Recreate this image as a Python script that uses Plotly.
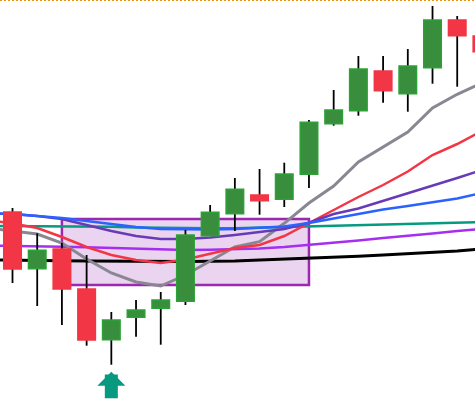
import plotly.graph_objects as go

# ---- data (price units) ----
candle_idx = list(range(20))
open_ = [288, 231.3, 251, 211, 160.3, 182.7, 191.7, 198.7, 264.3, 286.3,
         305, 300.7, 325.7, 376.3, 389.3, 429, 406.3, 432.3, 480, 464]
high = [292, 266.7, 257.3, 245, 188, 200, 208, 270, 295, 322,
        331, 337.3, 380, 410, 444, 444, 451, 494, 484, 470]
low = [217, 194, 175, 154.3, 135.3, 163.3, 155.3, 195, 264, 269,
       285.3, 293, 312, 374.3, 384.3, 397.3, 388.3, 416.3, 413.3, 440]
close = [231, 249.7, 211, 160, 180, 190, 200, 265, 287.7, 310.7,
         299.3, 326, 377.7, 390, 431, 409.3, 434, 480, 464.3, 448.3]

ma_idx = list(range(-1, 20))
ma_gray = [272, 269, 266, 257, 241, 227, 218, 214, 225, 239, 253, 258.3, 276.7,
           297, 314, 338, 353, 368, 392, 405.7, 417]
ma_red = [280, 276.5, 272, 263, 253, 245, 240, 237, 240.5, 246, 252, 255, 264,
          277, 290, 303, 315, 328.5, 345, 356, 369]
ma_purple = [286.5, 286, 284, 281, 275, 269, 264, 261, 261, 262.5, 265, 268, 271,
             277.3, 286, 291.5, 299, 307, 314.5, 322, 330]
ma_blue = [287, 286, 284, 282, 279, 276, 273, 271, 270.5, 270.5, 271, 272, 273.5,
           277, 281.5, 286, 290.5, 294, 297.5, 301.5, 307]
ma_teal = [274, 274, 274, 273.7, 273.5, 273.3, 272.5, 272, 271.7, 271.7, 271.7,
           272.3, 272.7, 273.3, 274, 274.7, 275.3, 276, 276.5, 277.3, 278]
ma_violet = [254.5, 254.3, 254, 253.3, 252.7, 252, 251.3, 250, 250, 250.3, 250.7,
             251.5, 253, 255, 257.5, 259.5, 262, 264, 266.5, 269, 271]
ma_black = [240, 240, 239.7, 239.3, 239, 238.7, 238.5, 238.3, 238.5, 238.8, 239,
            240, 240.8, 241.7, 242.7, 243.8, 245, 246.2, 247.5, 249, 251]

zone_start, zone_end = 2, 12
zone_low, zone_high = 215, 281
signal_idx = 4

# ---- styles ----
UP_FILL, UP_LINE = "#388e3c", "#2ba236"
DN_FILL, DN_LINE = "#f23645", "#f23645"

fig = go.Figure()

ma_series = [
    (ma_black, "#000000", 3),
    (ma_violet, "#a52ff0", 2.5),
    (ma_teal, "#089981", 2.5),
    (ma_gray, "#888792", 3),
    (ma_red, "#f23645", 2.5),
    (ma_purple, "#673ab7", 2.5),
    (ma_blue, "#2962ff", 2.5),
]
for vals, col, w in ma_series:
    fig.add_trace(go.Scatter(x=ma_idx, y=vals, mode="lines",
                             line=dict(color=col, width=w), hoverinfo="skip",
                             showlegend=False, xaxis="x", yaxis="y"))

# wicks (overlay subplot 2)
wx, wy = [], []
for i, h, l in zip(candle_idx, high, low):
    wx += [i, i, None]
    wy += [l, h, None]
fig.add_trace(go.Scatter(x=wx, y=wy, mode="lines",
                         line=dict(color="#000000", width=1.8),
                         hoverinfo="skip", showlegend=False,
                         xaxis="x2", yaxis="y2"))

# bodies (overlay subplot 3)
base = [min(o, c) for o, c in zip(open_, close)]
height = [abs(c - o) for o, c in zip(open_, close)]
fills = [UP_FILL if c >= o else DN_FILL for o, c in zip(open_, close)]
lines = [UP_LINE if c >= o else DN_LINE for o, c in zip(open_, close)]
fig.add_trace(go.Bar(x=candle_idx, y=height, base=base, width=0.71,
                     marker=dict(color=fills, line=dict(color=lines, width=1.5)),
                     hoverinfo="skip", showlegend=False,
                     xaxis="x3", yaxis="y3"))

# zone rectangle
fig.add_shape(type="rect", xref="x", yref="y",
              x0=zone_start, x1=zone_end, y0=zone_low, y1=zone_high,
              fillcolor="rgba(156,39,176,0.2)",
              line=dict(color="#9c27b0", width=2.5), layer="below")

# top dotted line
fig.add_shape(type="line", xref="paper", yref="paper", x0=0, x1=1, y0=1, y1=1,
              line=dict(color="#e8950f", width=2, dash="2px,2px"))

# signal arrow
tip = low[signal_idx] - 7
fig.add_annotation(x=signal_idx, y=tip, ax=signal_idx, ay=tip - 28,
                   xref="x", yref="y", axref="x", ayref="y", text="",
                   showarrow=True, arrowhead=1, arrowsize=0.36, arrowwidth=13,
                   arrowcolor="#089981")

xr = [-0.506, 18.72]
yr = [81, 500]
ax_common = dict(visible=False, showgrid=False, zeroline=False, fixedrange=True)
fig.update_layout(
    width=475, height=419,
    margin=dict(l=0, r=0, t=0, b=0),
    paper_bgcolor="white", plot_bgcolor="white",
    xaxis=dict(range=xr, **ax_common),
    yaxis=dict(range=yr, **ax_common),
    xaxis2=dict(range=xr, overlaying="x", **ax_common),
    yaxis2=dict(range=yr, overlaying="y", **ax_common),
    xaxis3=dict(range=xr, overlaying="x", **ax_common),
    yaxis3=dict(range=yr, overlaying="y", **ax_common),
    showlegend=False,
)

fig.write_html("out.html")
